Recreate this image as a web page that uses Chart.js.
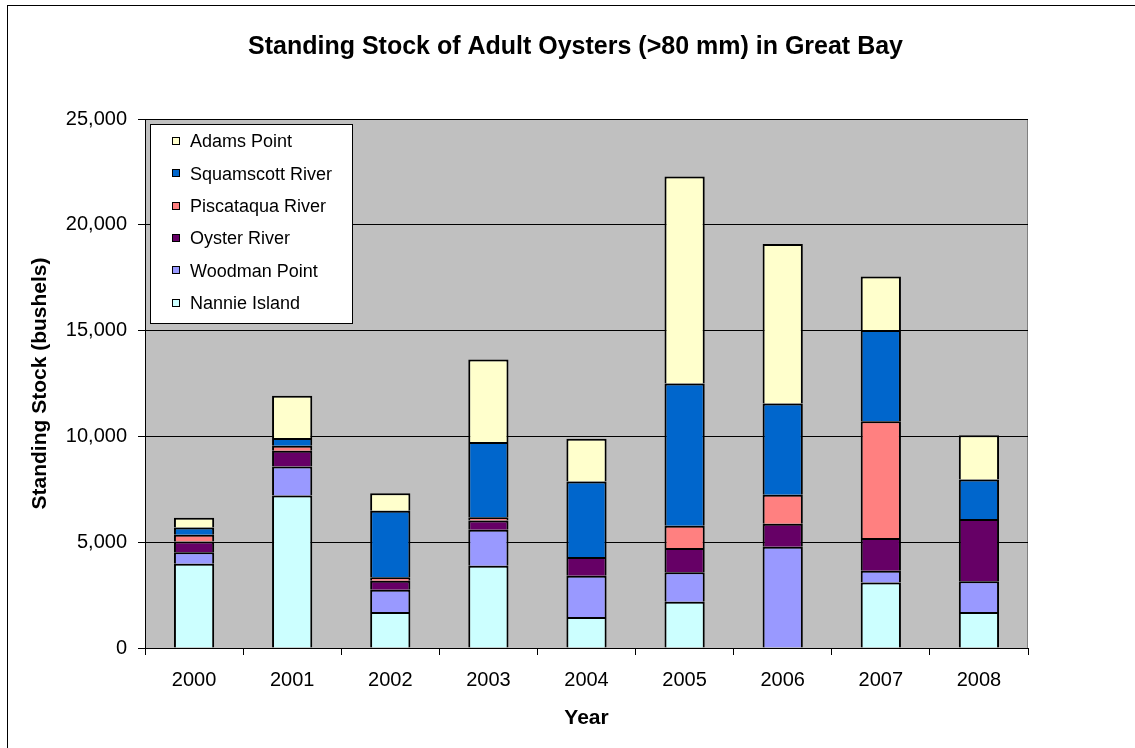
<!DOCTYPE html>
<html>
<head>
<meta charset="utf-8">
<title>Standing Stock of Adult Oysters</title>
<script src="https://cdn.jsdelivr.net/npm/chart.js@4.4.1/dist/chart.umd.min.js"></script>
<style>
html, body { margin: 0; padding: 0; overflow: hidden; background: #fff; }
canvas { display: block; }
</style>
</head>
<body>
<canvas id="oyster_chart" width="1151" height="748" style="width:1151px;height:748px"></canvas>
<script>
// Standing stock of adult oysters by site, Great Bay

const years = ['2000','2001','2002','2003','2004','2005','2006','2007','2008'] ;

// bushels (bottom to top)
const nannieIsland    = [3980, 7210, 1700, 3890, 1470, 2190,    0, 3100, 1700] ;
const woodmanPoint    = [ 550, 1370, 1050, 1700, 1950, 1390, 4780,  550, 1450] ;
const oysterRiver     = [ 500,  740,  430,  430,  880, 1150, 1090, 1550, 2950] ;
const piscataquaRiver = [ 320,  240,  160,  160,    0, 1050, 1370, 5520,    0] ;
const squamscottRiver = [ 340,  360, 3150, 3560, 3570, 6720, 4310, 4310, 1860] ;
const adamsPoint      = [ 470, 2000,  820, 3890, 2020, 9780, 7540, 2530, 2100] ;

const yTicks = [0, 5000, 10000, 15000, 20000, 25000] ;

const chartTitle = 'Standing Stock of Adult Oysters (>80 mm) in Great Bay' ;
const font = '"Liberation Sans", Arial, sans-serif' ;

const ctx_oyster = document.getElementById('oyster_chart').getContext('2d') ;
Chart.defaults.color = '#000' ;
Chart.defaults.font.family = font ;

function bar(label, data, color) {
    return {
        label: label,
        data: data,
        backgroundColor: color,
        borderColor: '#000',
        borderWidth: 2,
        barPercentage: 0.41,
        categoryPercentage: 1.0,
    } ;
}

// grey plot area, outer frame, title, and the boxed legend inside the plot
const excelLook = {
    id: 'excelLook',
    beforeDraw(chart) {
        const c = chart.ctx, a = chart.chartArea ;
        c.save() ;
        c.fillStyle = '#fff' ;
        c.fillRect(0, 0, chart.width, chart.height) ;
        c.strokeStyle = '#000' ;
        c.lineWidth = 1 ;
        c.strokeRect(7.5, 5.5, chart.width - 15, chart.height + 20) ;
        c.fillStyle = '#C0C0C0' ;
        c.fillRect(a.left, a.top, a.right - a.left, a.bottom - a.top) ;
        c.strokeStyle = '#808080' ;
        c.strokeRect(a.left + 0.5, a.top + 0.5, a.right - a.left - 1, a.bottom - a.top) ;
        c.fillStyle = '#000' ;
        c.font = 'bold 25px ' + font ;
        c.textAlign = 'center' ;
        c.textBaseline = 'alphabetic' ;
        c.fillText(chartTitle, 575.5, 54) ;
        c.restore() ;
    },
    afterDraw(chart) {
        const c = chart.ctx ;
        const sets = chart.data.datasets.slice().reverse() ;
        c.save() ;
        c.fillStyle = '#fff' ;
        c.fillRect(150, 124, 202, 199) ;
        c.strokeStyle = '#000' ;
        c.lineWidth = 1 ;
        c.strokeRect(150.5, 124.5, 202, 199) ;
        c.font = '18px ' + font ;
        c.textAlign = 'left' ;
        c.textBaseline = 'alphabetic' ;
        for (let i = 0; i < sets.length; i++) {
            const y = 140.7 + i * 32.4 ;
            c.fillStyle = sets[i].backgroundColor ;
            c.fillRect(172, Math.round(y) - 4, 8, 8) ;
            c.strokeStyle = '#000' ;
            c.strokeRect(172.5, Math.round(y) - 3.5, 7, 7) ;
            c.fillStyle = '#000' ;
            c.fillText(sets[i].label, 190, y + 6.5) ;
        }
        c.restore() ;
    }
} ;

let oyster_chart = new Chart(ctx_oyster, {
    type: 'bar',
    data: {
        labels: years,
        datasets: [
            bar('Nannie Island', nannieIsland, '#CCFFFF'),
            bar('Woodman Point', woodmanPoint, '#9999FF'),
            bar('Oyster River', oysterRiver, '#660066'),
            bar('Piscataqua River', piscataquaRiver, '#FF8080'),
            bar('Squamscott River', squamscottRiver, '#0066CC'),
            bar('Adams Point', adamsPoint, '#FFFFCC'),
        ]
    },
    options: {
        responsive: false,
        animation: false,
        layout: { padding: { top: 119, right: 123, left: 0, bottom: 0 } },
        plugins: {
            legend: { display: false },
            tooltip: { enabled: false },
        },
        scales: {
            x: {
                stacked: true,
                afterFit: (s) => { s.height = 100 ; },
                grid: { drawOnChartArea: false, tickLength: 7, color: '#000' },
                border: { color: '#000', width: 1 },
                ticks: { font: { size: 20 }, padding: 13 },
                title: {
                    display: true,
                    text: 'Year',
                    font: { size: 21, weight: 'bold' },
                    padding: { top: 0, bottom: 17 },
                },
            },
            y: {
                stacked: true,
                min: 0,
                max: 25000,
                afterFit: (s) => { s.width = 145 ; },
                afterBuildTicks: (s) => { s.ticks = yTicks.map(v => ({ value: v })) ; },
                grid: { color: '#000', tickLength: 7 },
                border: { color: '#000', width: 1 },
                ticks: {
                    font: { size: 20 },
                    padding: 11,
                    callback: (v) => v.toLocaleString('en-US'),
                },
                title: {
                    display: true,
                    text: 'Standing Stock (bushels)',
                    font: { size: 21, weight: 'bold' },
                    padding: { top: 28, bottom: 0 },
                },
            },
        },
    },
    plugins: [excelLook],
}) ;
</script>
</body>
</html>
